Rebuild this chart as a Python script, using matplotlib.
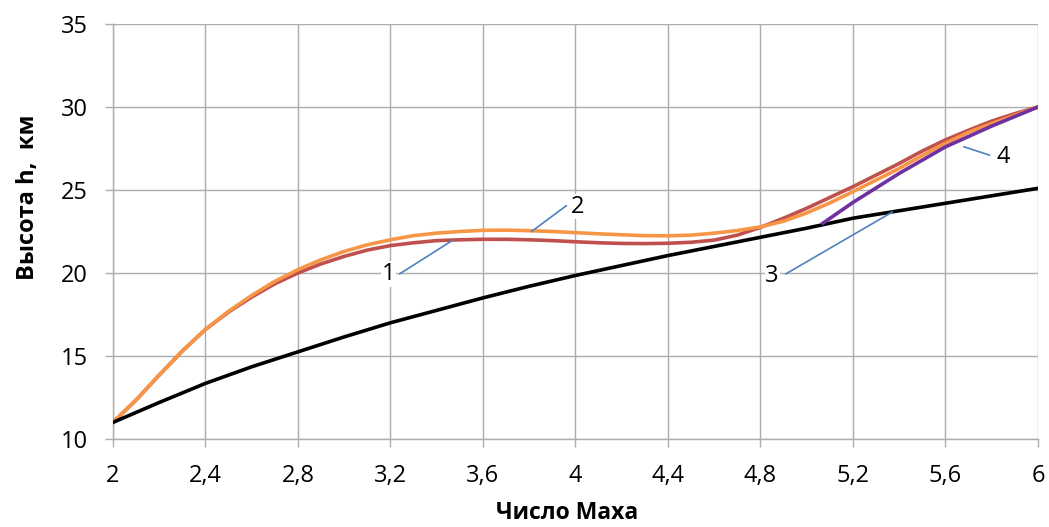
import numpy as np
import matplotlib
matplotlib.use("Agg")
import matplotlib.pyplot as plt

plt.rcParams['font.family'] = ['Open Sans', 'DejaVu Sans']

# кривая 1 и 2 (шаг 0,1 по числу Маха)
mach_12 = [2.0, 2.1, 2.2, 2.3, 2.4, 2.5, 2.6, 2.7, 2.8, 2.9, 3.0, 3.1, 3.2, 3.3, 3.4,
           3.5, 3.6, 3.7, 3.8, 3.9, 4.0, 4.1, 4.2, 4.3, 4.4, 4.5, 4.6, 4.7, 4.8, 4.9,
           5.0, 5.1, 5.2, 5.3, 5.4, 5.5, 5.6, 5.7, 5.8, 5.9, 6.0]
h_1 = [11.0, 12.35, 13.85, 15.3, 16.6, 17.65, 18.55, 19.35, 20.0, 20.55, 21.0, 21.38, 21.65, 21.82, 21.95,
       22.0, 22.03, 22.03, 22.0, 21.95, 21.88, 21.82, 21.78, 21.77, 21.79, 21.85, 21.98, 22.28, 22.75, 23.3,
       23.9, 24.55, 25.2, 25.9, 26.6, 27.35, 28.02, 28.6, 29.15, 29.6, 30.0]
h_2 = [11.0, 12.35, 13.85, 15.3, 16.6, 17.7, 18.65, 19.5, 20.2, 20.8, 21.3, 21.7, 22.0, 22.25, 22.4,
       22.5, 22.57, 22.58, 22.55, 22.5, 22.43, 22.36, 22.3, 22.25, 22.24, 22.28, 22.4, 22.56, 22.78, 23.12,
       23.62, 24.22, 24.9, 25.6, 26.3, 27.08, 27.82, 28.48, 29.0, 29.5, 30.0]

# кривая 3
mach_3 = [2.0, 2.2, 2.4, 2.6, 2.8, 3.0, 3.2, 3.4, 3.6, 3.8, 4.0, 4.2, 4.4, 4.6, 4.8,
          5.0, 5.2, 5.4, 5.6, 5.8, 6.0]
h_3 = [11.0, 12.2, 13.35, 14.35, 15.25, 16.15, 17.0, 17.75, 18.5, 19.2, 19.85, 20.45, 21.05, 21.6, 22.15,
       22.7, 23.3, 23.75, 24.2, 24.65, 25.1]

# кривая 4
mach_4 = [5.07, 5.2, 5.4, 5.6, 5.8, 6.0]
h_4 = [23.0, 24.25, 26.0, 27.6, 28.85, 30.0]

x_ticks = [2.0, 2.4, 2.8, 3.2, 3.6, 4.0, 4.4, 4.8, 5.2, 5.6, 6.0]
x_tick_labels = ['2', '2,4', '2,8', '3,2', '3,6', '4', '4,4', '4,8', '5,2', '5,6', '6']
y_ticks = [10, 15, 20, 25, 30, 35]

# подписи кривых: номер, положение текста, точка на кривой
labels = ['1', '2', '3', '4']
label_xy = [(3.19, 19.95), (4.01, 24.0), (4.85, 19.8), (5.85, 27.0)]
label_target = [(3.47, 21.98), (3.81, 22.5), (5.37, 23.67), (5.68, 27.6)]
label_start = [(3.24, 19.95), (3.96, 24.05), (4.91, 19.95), (5.79, 27.1)]

fig = plt.figure(figsize=(10.49, 5.27), dpi=100)
ax = fig.add_axes([0.1077, 0.167, 0.8818, 0.7875])

ax.plot(mach_12, h_1, color='#C0504D', lw=2.6, zorder=3)
ax.plot(mach_12, h_2, color='#F79646', lw=2.6, zorder=4)
ax.plot(mach_3, h_3, color='black', lw=2.6, zorder=5)
ax.plot(mach_4, h_4, color='#7030A0', lw=2.6, zorder=6)

for lab, txy, tgt, st in zip(labels, label_xy, label_target, label_start):
    ax.plot([st[0], tgt[0]], [st[1], tgt[1]], color='#4F81BD', lw=1.2, zorder=7)
    ax.text(txy[0], txy[1], lab, fontsize=17, ha='center', va='center', zorder=8,
            bbox=dict(facecolor='white', edgecolor='none', pad=0.5))

ax.set_xlim(2, 6)
ax.set_ylim(10, 35)
ax.set_xticks(x_ticks)
ax.set_xticklabels(x_tick_labels)
ax.set_yticks(y_ticks)
ax.grid(True, color='#ADADAD', lw=1.0, zorder=0)
ax.set_axisbelow(True)

for s in ['top', 'right']:
    ax.spines[s].set_visible(False)
for s in ['left', 'bottom']:
    ax.spines[s].set_color('#ADADAD')
    ax.spines[s].set_linewidth(1.0)
ax.tick_params(axis='both', direction='out', length=6, width=1, color='#ADADAD',
               labelsize=17, pad=12)

ax.set_xlabel('Число Маха', fontsize=16.5, fontweight='bold', va='center')
ax.set_ylabel('Высота h,  км', fontsize=17, fontweight='bold', va='center')
ax.xaxis.set_label_coords(0.491, -0.178)
ax.yaxis.set_label_coords(-0.092, 0.583)

fig.savefig('out.png', dpi=100)
